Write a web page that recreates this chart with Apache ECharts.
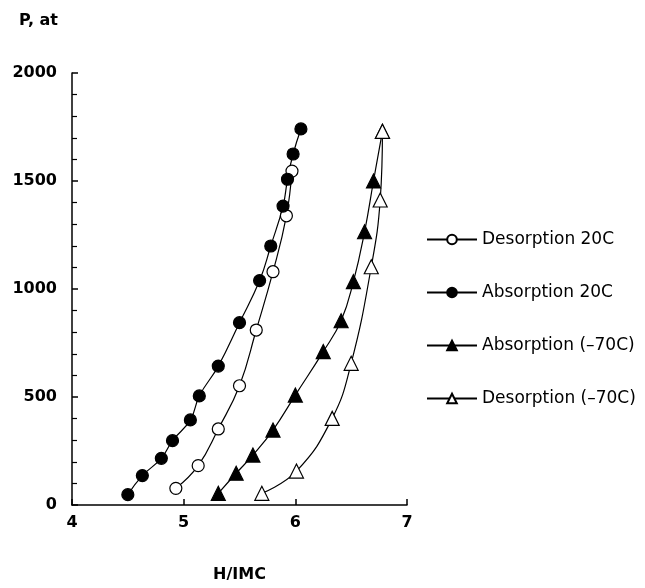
<!DOCTYPE html>
<html lang="en">
<head>
<meta charset="UTF-8" />
<title>P vs H/IMC</title>
<style>
  body { margin: 0; padding: 0; background: #fff; }
  #chart { width: 645px; height: 588px; }
</style>
</head>
<body>
<div id="chart"></div>
<script src="https://cdn.jsdelivr.net/npm/echarts@6/dist/echarts.min.js"></script>
<script>
// H/IMC, P (at)
const desorption20 = [
  [4.93, 77], [5.13, 182], [5.31, 352], [5.50, 552], [5.65, 810],
  [5.80, 1080], [5.92, 1339], [5.97, 1546]
];
const absorption20 = [
  [4.50, 48], [4.63, 136], [4.80, 216], [4.90, 298], [5.06, 394],
  [5.14, 505], [5.31, 643], [5.50, 844], [5.68, 1039], [5.78, 1199],
  [5.89, 1384], [5.93, 1508], [5.98, 1625], [6.05, 1741]
];
const absorptionM70 = [
  [5.31, 54], [5.47, 147], [5.62, 231], [5.80, 347], [6.00, 509],
  [6.25, 710], [6.41, 853], [6.52, 1034], [6.62, 1265], [6.70, 1500],
  [6.78, 1730]
];
const desorptionM70 = [
  [5.70, 54], [6.01, 157], [6.33, 401], [6.50, 656], [6.68, 1103],
  [6.76, 1412], [6.78, 1730]
];
const seriesNames = ['Desorption 20C', 'Absorption 20C', 'Absorption (\u201370C)', 'Desorption (\u201370C)'];

const chart = echarts.init(document.getElementById('chart'));

function mk(name, data, symbol, filled, size) {
  return {
    name: name,
    type: 'line',
    data: data,
    smooth: 0.45,
    symbol: symbol,
    symbolSize: size,
    showAllSymbol: true,
    lineStyle: { color: '#000', width: 1.2 },
    itemStyle: { color: filled ? '#000' : '#fff', borderColor: '#000', borderWidth: 1.2 },
    emphasis: { disabled: true }
  };
}

chart.setOption({
  animation: false,
  grid: { left: 72, right: 238, top: 73, bottom: 83 },
  legend: {
    orient: 'vertical',
    left: 421,
    top: 226,
    itemWidth: 50,
    itemHeight: 12,
    itemGap: 36,
    textStyle: { fontFamily: 'DejaVu Sans', fontSize: 17, color: '#000' },
    data: seriesNames
  },
  xAxis: {
    type: 'value',
    min: 4, max: 7, interval: 1,
    name: 'H/IMC',
    nameLocation: 'middle',
    nameGap: 62,
    nameTextStyle: { fontFamily: 'DejaVu Sans', fontWeight: 'bold', fontSize: 16, color: '#000' },
    axisLine: { lineStyle: { color: '#000', width: 1.5 } },
    axisTick: { inside: true, length: 6, lineStyle: { color: '#000', width: 1.5 } },
    axisLabel: { fontFamily: 'DejaVu Sans', fontWeight: 'bold', fontSize: 16, color: '#000', margin: 10 },
    splitLine: { show: false }
  },
  yAxis: {
    type: 'value',
    min: 0, max: 2000, interval: 500,
    name: 'P, at',
    nameGap: 44,
    nameTextStyle: { fontFamily: 'DejaVu Sans', fontWeight: 'bold', fontSize: 16, color: '#000', align: 'right', padding: [0, 14, 0, 0] },
    axisLine: { show: true, lineStyle: { color: '#000', width: 1.5 } },
    axisTick: { inside: true, length: 6, lineStyle: { color: '#000', width: 1.5 } },
    minorTick: { show: true, splitNumber: 5, length: 5, lineStyle: { color: '#000', width: 1.2 } },
    axisLabel: { fontFamily: 'DejaVu Sans', fontWeight: 'bold', fontSize: 16, color: '#000', margin: 15, formatter: v => String(v) },
    splitLine: { show: false }
  },
  series: [
    mk(seriesNames[0], desorption20, 'circle', false, 12),
    mk(seriesNames[1], absorption20, 'circle', true, 12),
    mk(seriesNames[2], absorptionM70, 'triangle', true, 14),
    mk(seriesNames[3], desorptionM70, 'triangle', false, 14)
  ]
});
</script>
</body>
</html>
